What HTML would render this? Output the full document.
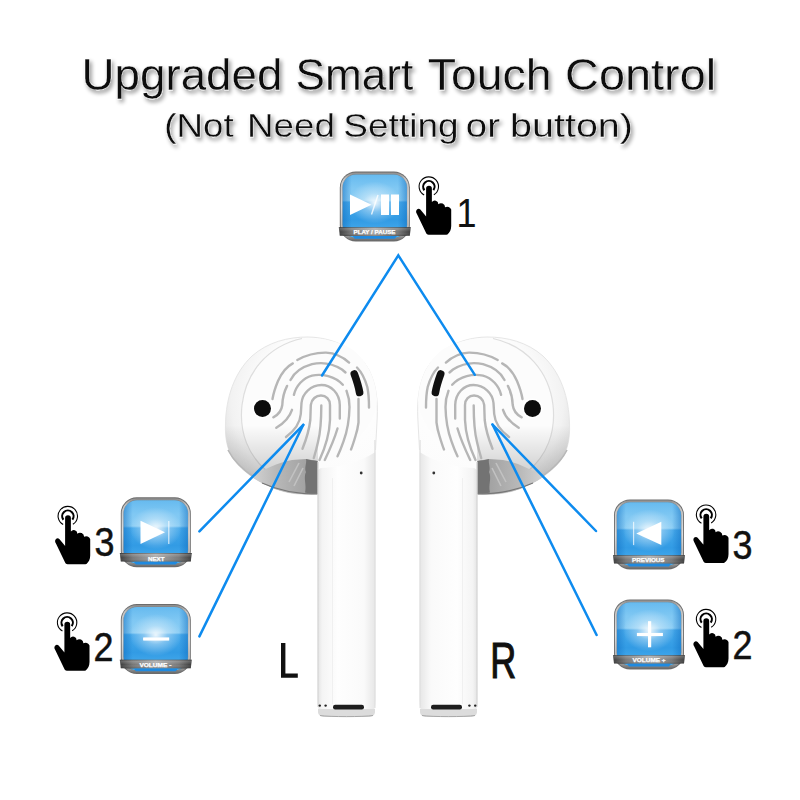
<!DOCTYPE html>
<html><head><meta charset="utf-8">
<style>
html,body{margin:0;padding:0;background:#fff;width:800px;height:800px;overflow:hidden}
svg{display:block}
text{font-family:"Liberation Sans",sans-serif}
</style></head>
<body>
<svg width="800" height="800" viewBox="0 0 800 800">
<defs>
  <filter id="tsh" x="-10%" y="-30%" width="120%" height="160%">
    <feGaussianBlur in="SourceAlpha" stdDeviation="2.1"/>
    <feOffset dx="2.2" dy="3.2" result="b"/>
    <feComponentTransfer><feFuncA type="linear" slope="0.42"/></feComponentTransfer>
    <feMerge><feMergeNode/><feMergeNode in="SourceGraphic"/></feMerge>
  </filter>
  <filter id="glow" x="-50%" y="-50%" width="200%" height="200%">
    <feGaussianBlur stdDeviation="0.6"/>
  </filter>
  <linearGradient id="ring" x1="0" y1="0" x2="0" y2="1">
    <stop offset="0" stop-color="#8a8a8a"/>
    <stop offset="0.1" stop-color="#c4c4c4"/>
    <stop offset="0.5" stop-color="#dcdcdc"/>
    <stop offset="0.9" stop-color="#b0b0b0"/>
    <stop offset="1" stop-color="#6a6a6a"/>
  </linearGradient>
  <linearGradient id="blue" x1="0" y1="0" x2="0" y2="1">
    <stop offset="0" stop-color="#66baef"/>
    <stop offset="0.22" stop-color="#80c8f3"/>
    <stop offset="0.41" stop-color="#88ccf4"/>
    <stop offset="0.44" stop-color="#45a8ea"/>
    <stop offset="0.72" stop-color="#329be4"/>
    <stop offset="1" stop-color="#4cb0f0"/>
  </linearGradient>
  <linearGradient id="bluex" x1="0" y1="0" x2="1" y2="0">
    <stop offset="0" stop-color="#0e6cc0" stop-opacity="0.5"/>
    <stop offset="0.14" stop-color="#0e6cc0" stop-opacity="0"/>
    <stop offset="0.86" stop-color="#0e6cc0" stop-opacity="0"/>
    <stop offset="1" stop-color="#0e6cc0" stop-opacity="0.5"/>
  </linearGradient>
  <radialGradient id="hl" cx="0.5" cy="0.5" r="0.5">
    <stop offset="0" stop-color="#ffffff" stop-opacity="0.9"/>
    <stop offset="0.45" stop-color="#ffffff" stop-opacity="0.35"/>
    <stop offset="1" stop-color="#ffffff" stop-opacity="0"/>
  </radialGradient>
  <linearGradient id="band" x1="0" y1="0" x2="1" y2="0">
    <stop offset="0" stop-color="#3a3a3a"/>
    <stop offset="0.18" stop-color="#777"/>
    <stop offset="0.5" stop-color="#a8a8a8"/>
    <stop offset="0.82" stop-color="#777"/>
    <stop offset="1" stop-color="#3a3a3a"/>
  </linearGradient>
  <linearGradient id="bandv" x1="0" y1="0" x2="0" y2="1">
    <stop offset="0" stop-color="#000" stop-opacity="0.35"/>
    <stop offset="0.15" stop-color="#fff" stop-opacity="0.2"/>
    <stop offset="0.55" stop-color="#fff" stop-opacity="0"/>
    <stop offset="1" stop-color="#000" stop-opacity="0.25"/>
  </linearGradient>
  <radialGradient id="headg" gradientUnits="userSpaceOnUse" cx="330" cy="400" r="112">
    <stop offset="0" stop-color="#ffffff"/>
    <stop offset="0.65" stop-color="#fcfcfc"/>
    <stop offset="0.88" stop-color="#f2f2f2"/>
    <stop offset="1" stop-color="#e4e4e4"/>
  </radialGradient>
  <linearGradient id="stemg" x1="0" y1="0" x2="1" y2="0">
    <stop offset="0" stop-color="#e2e2e2"/>
    <stop offset="0.08" stop-color="#f4f4f4"/>
    <stop offset="0.35" stop-color="#fefefe"/>
    <stop offset="0.8" stop-color="#fafafa"/>
    <stop offset="1" stop-color="#e6e6e6"/>
  </linearGradient>
  <clipPath id="headclip"><path d="M317.5 494 C305 495 290 494.5 276 489 C258 482 243 472 234 460 C227 450 225 438 225.5 424 C226 398 234 373 252 356 C268 342 288 337 308 337 C335 337.5 358 350 369 370 C376 384 378 400 377.2 418 L375.5 452 C360 462 340 468 317.5 468 Z"/></clipPath>
  <linearGradient id="botshade" gradientUnits="userSpaceOnUse" x1="0" y1="425" x2="0" y2="496">
    <stop offset="0" stop-color="#000" stop-opacity="0"/>
    <stop offset="0.5" stop-color="#000" stop-opacity="0.13"/>
    <stop offset="1" stop-color="#000" stop-opacity="0.24"/>
  </linearGradient>
  <linearGradient id="patchg" gradientUnits="userSpaceOnUse" x1="252" y1="0" x2="306" y2="0">
    <stop offset="0" stop-color="#d2d2d2"/>
    <stop offset="0.45" stop-color="#b8b8b8"/>
    <stop offset="1" stop-color="#a2a2a2"/>
  </linearGradient>
  <symbol id="btn" viewBox="0 0 70 70" overflow="visible">
    <rect x="0" y="0" width="70" height="70" rx="16" fill="#6c6c6c"/>
    <rect x="0.9" y="0.9" width="68.2" height="68.2" rx="15.2" fill="url(#ring)"/>
    <rect x="2.5" y="2.5" width="65" height="64" rx="13.8" fill="#5a5a5a" opacity="0.5"/>
    <rect x="2.9" y="2.9" width="64.2" height="63.2" rx="13.3" fill="url(#blue)"/>
    <rect x="2.9" y="2.9" width="64.2" height="63.2" rx="13.3" fill="url(#bluex)"/>
    <ellipse cx="35" cy="31" rx="26" ry="21" fill="url(#hl)"/>
    <path d="M-1 55.8 L71 55.8 L70 64.2 C60 64.6 10 64.6 0 64.2 Z" fill="url(#band)"/>
    <path d="M-1 55.8 L71 55.8 L70 64.2 C60 64.6 10 64.6 0 64.2 Z" fill="url(#bandv)"/>
    <path d="M13 64.4 L57 64.4 L55 67.2 L15 67.2 Z" fill="#1f8ae0"/>
  </symbol>
  <symbol id="hand" viewBox="0 0 800 800" overflow="visible">
    <path d="M184 212 A33 33 0 0 1 250 212 L250 365 A41 41 0 0 1 324 390 A47 47 0 0 1 401 426 A50 50 0 0 1 471 452 L471 640 C470 685 455 715 428 736 L415 740 L212 740 C198 740 190 732 184 720 L78 500 C67 482 66 462 80 450 C92 440 108 441 118 452 L180 525 L184 530 Z" fill="#000"/>
    <path d="M164.6 231.2 A65 65 0 1 1 267.5 230.4" fill="none" stroke="#000" stroke-width="24"/>
    <path d="M161.6 286.6 A111 111 0 1 1 272.9 283.7" fill="none" stroke="#000" stroke-width="12.5"/>
  </symbol>
  <g id="fp" fill="none" stroke="#b6b6b6" stroke-width="2.4" stroke-linecap="round" stroke-linejoin="round">
    <path d="M321.3 405.5 C321.3 420 320.5 432 318 442 C316.5 449 315 454 313.8 458"/>
    <path d="M302.5 448.8 C306 440 309 432 310.3 420 L310.8 405 C311.5 399 316 395.5 321 395.5 C326 395.5 330 399.5 330 405 L330 420 C329.5 432 326 446 319.5 460"/>
    <path d="M286 437 C294 431 300 424 300.8 414 L301.5 403 C302.5 393 311 385.2 321.5 385 C331 385 339.5 393 339.8 405 L339.8 418.5"/>
    <path d="M337.5 428.5 C335 437 331 447 324.8 460"/>
    <path d="M293.9 394.9 C296 386 303 378 312 375.6 C322 373.5 335 376 342.8 384.8"/>
    <path d="M346.5 390.8 C348.5 396 349.6 401 349.5 407 C349.3 418 347 432 343.5 441.3 C341.5 447 339.5 452 337.5 456.3"/>
    <path d="M292 409.8 C290 416 284 423 276.3 427.8"/>
    <path d="M290.5 380 C294 373 302 367 312 364.2 C322 361.8 333 363.8 342 369.5 L345.5 372.5"/>
    <path d="M287.1 385.9 C284.5 391 282.5 397 282.3 405 C281.5 411 278 415 273.3 417.3"/>
    <path d="M358.5 399 L358.5 422.5 C357.8 428 356.8 432 355.5 436 C354 441 352.5 446 351 449.5"/>
    <path d="M297.3 360 C306 355 316 352.5 326 352.6 C335 353 343 357 349.1 362.6"/>
    <path d="M357 367.5 C361 371.5 365 379 367.3 387 C368.6 393 369 400 369 407.5"/>
    <path d="M292.8 363.4 C287 366.5 282 372 278 381 C275.5 387 273.3 394 272.5 399"/>
  </g>
  <g id="bud">
    <!-- head + stem outline -->
    <path d="M317.5 440 L375.5 430 L375.5 700 C375.5 712 371 717 365 717 L328 717 C322 717 317.5 712 317.5 700 Z" fill="url(#stemg)"/>
    <path d="M317.5 494 C305 495 290 494.5 276 489 C258 482 243 472 234 460 C227 450 225 438 225.5 424 C226 398 234 373 252 356 C268 342 288 337 308 337 C335 337.5 358 350 369 370 C376 384 378 400 377.2 418 L375.5 452 C360 462 340 468 317.5 468 Z" fill="url(#headg)"/>
    <path d="M317.5 494 C305 495 290 494.5 276 489 C258 482 243 472 234 460 C227 450 225 438 225.5 424 C226 398 234 373 252 356 C268 342 288 337 308 337 C335 337.5 358 350 369 370 C376 384 378 400 377.2 418 L375.5 450" fill="none" stroke="#e6e6e6" stroke-width="1"/>
    
    <!-- face disc -->
    <path d="M302 338.5 C268 346 246 372 242 405 C239 432 248 456 268 472 C285 482 300 478 318 470 L340 455 C360 440 376 420 377 400 C376 380 368 360 350 348 C335 340 318 337 302 338.5 Z" fill="#fcfcfc"/>
    <path d="M302 338.5 C268 346 246 372 242 405 C239 432 248 456 268 472" fill="none" stroke="#dedede" stroke-width="1.2"/>
    <rect x="220" y="425" width="98" height="75" fill="url(#botshade)" clip-path="url(#headclip)"/>
    <!-- bottom edge darker line -->
    <path d="M228 450 C236 466 252 478 276 488.5 C290 493 305 494 317.5 493.5" fill="none" stroke="#b8b8b8" stroke-width="1.6"/>
    <!-- shadow under head -->
    <path d="M252 477 C263 470 276 463 292 460 L306 459 L317.5 461 L317.5 494 C305 494.8 290 492.5 276 488.5 C266 485.5 258 481.5 252 477 Z" fill="url(#patchg)"/>
    <path d="M306 459 C310 460 314 460.5 317.5 461 L317.5 493.8 C312 494 308 493.4 305 492.4 C307 485 303 478 306 472 C304 468 307 463 306 459 Z" fill="#737373"/>
    <path d="M289 482 L299 463 M294 486 L303 468" fill="none" stroke="#c2c2c2" stroke-width="1.6"/>
    <path d="M262 483 C275 489 295 494 317.5 494" fill="none" stroke="#767676" stroke-width="1.2"/>
    <!-- stem shading -->
    <rect x="317.5" y="462" width="1.2" height="245" fill="#d8d8d8"/>
    <rect x="374.3" y="440" width="1.2" height="268" fill="#e0e0e0"/>
    <rect x="332" y="478" width="1" height="226" fill="#f0f0f0"/>
    <rect x="370.5" y="478" width="1" height="226" fill="#eeeeee"/>
    <!-- bottom cap -->
    <path d="M318 709 L375 709 L375 712 C375 715 372 717 368 717 L325 717 C321 717 318 715 318 712 Z" fill="#dcdcdc"/>
    <path d="M320 715.5 C330 717 363 717 373 715.5" fill="none" stroke="#a8a8a8" stroke-width="1"/>
    <rect x="333" y="704.8" width="31" height="4.6" rx="2.2" fill="#1e1e1e"/>
    <circle cx="319.8" cy="705.6" r="1.2" fill="#222"/>
    <circle cx="325.6" cy="705.6" r="1.2" fill="#222"/>
    <use href="#fp"/>
    <circle cx="262.5" cy="408.5" r="10.3" fill="#fff" opacity="0.85"/>
    <circle cx="262.5" cy="408.5" r="8.5" fill="#0c0c0c"/>
    <path d="M354.3 374 C356.5 380 358.5 386 359.6 392.5" fill="none" stroke="#111" stroke-width="7.6" stroke-linecap="round"/>
    <circle cx="361.2" cy="473" r="1.4" fill="#333"/>
  </g>
</defs>

<!-- title -->
<g filter="url(#tsh)" fill="#0e0e0e" stroke="#fff" stroke-width="0.3">
  <g font-size="44">
  <text x="81.47" y="89.9" textLength="200.98" lengthAdjust="spacingAndGlyphs">Upgraded</text>
  <text x="295.49" y="89.9" textLength="117.83" lengthAdjust="spacingAndGlyphs">Smart</text>
  <text x="427.75" y="89.9" textLength="123.9" lengthAdjust="spacingAndGlyphs">Touch</text>
  <text x="565.12" y="89.9" textLength="151.01" lengthAdjust="spacingAndGlyphs">Control</text>
  </g>
  <g font-size="34.1">
  <text x="164.32" y="137.3" textLength="69.45" lengthAdjust="spacingAndGlyphs">(Not</text>
  <text x="246.98" y="137.3" textLength="87.99" lengthAdjust="spacingAndGlyphs">Need</text>
  <text x="343.32" y="137.3" textLength="115.27" lengthAdjust="spacingAndGlyphs">Setting</text>
  <text x="465.89" y="137.3" textLength="34.15" lengthAdjust="spacingAndGlyphs">or</text>
  <text x="509.95" y="137.3" textLength="123.1" lengthAdjust="spacingAndGlyphs">button)</text>
  </g>
</g>

<!-- earbuds -->
<use href="#bud"/>
<use href="#bud" transform="translate(795,0) scale(-1,1)"/>

<!-- lines -->
<g stroke="#0d8bef" stroke-width="2.5" fill="none" stroke-linecap="round">
  <path d="M322 375.5 L398.3 255.4 L474.8 374.8"/>
  <path d="M303.3 424.8 L199.4 531.4"/>
  <path d="M303.3 424.8 L199.4 636.4"/>
  <path d="M492.5 424.5 L596 531"/>
  <path d="M492.5 424.5 L596.6 635"/>
</g>

<!-- buttons -->
<use href="#btn" x="339.8" y="171.5" width="70" height="70"/>
<use href="#btn" x="120.8" y="497.3" width="70" height="70"/>
<use href="#btn" x="120.8" y="604" width="70" height="70"/>
<use href="#btn" x="614" y="499.4" width="70" height="70"/>
<use href="#btn" x="614" y="599.4" width="70" height="70"/>

<!-- button icons -->
<g fill="#fff">
  <!-- play/pause -->
  <path d="M350 194.5 L371.5 204.8 L350 215 Z"/>
  <path d="M371.5 214.5 L378 195" stroke="#fff" stroke-opacity="0.8" stroke-width="1.4"/>
  <rect x="381" y="194.5" width="8" height="20.5"/>
  <rect x="391" y="194.5" width="8" height="20.5"/>
  <!-- next -->
  <path d="M140.5 520.7 L165 532.3 L140.5 544 Z"/>
  <rect x="168.2" y="521" width="1.2" height="23" opacity="0.75"/>
  <!-- minus -->
  <rect x="143.2" y="637.5" width="26" height="3" filter="url(#glow)"/>
  <rect x="143.5" y="637.8" width="25.4" height="2.4"/>
  <!-- prev -->
  <path d="M661.3 521.8 L636.3 533.4 L661.3 545.1 Z"/>
  <rect x="633" y="521.8" width="1.2" height="23.3" opacity="0.7"/>
  <!-- plus -->
  <rect x="636.9" y="632.9" width="26" height="3.2"/>
  <rect x="648" y="621.2" width="3.2" height="26.1"/>
</g>
<g fill="#fff" font-weight="bold" font-size="6.2" text-anchor="middle" stroke="#fff" stroke-width="0.25">
  <text x="374.5" y="234.3" textLength="42" lengthAdjust="spacingAndGlyphs">PLAY / PAUSE</text>
  <text x="156.2" y="560.5" textLength="16.5" lengthAdjust="spacingAndGlyphs">NEXT</text>
  <text x="155.4" y="667" textLength="32" lengthAdjust="spacingAndGlyphs">VOLUME -</text>
  <text x="648.3" y="562" textLength="32.5" lengthAdjust="spacingAndGlyphs">PREVIOUS</text>
  <text x="649.1" y="662" textLength="33" lengthAdjust="spacingAndGlyphs">VOLUME +</text>
</g>

<!-- hands -->
<use href="#hand" x="410" y="170" width="70" height="70"/>
<use href="#hand" x="49" y="499.5" width="70" height="70"/>
<use href="#hand" x="48.3" y="606" width="70" height="70"/>
<use href="#hand" x="687.3" y="498.2" width="70" height="70"/>
<use href="#hand" x="687.3" y="602.5" width="70" height="70"/>

<!-- numbers -->
<g fill="#111" font-size="40" stroke="#111" stroke-width="0.5" lengthAdjust="spacingAndGlyphs">
  <text x="456.5" y="227" textLength="20" lengthAdjust="spacingAndGlyphs" stroke-width="0.1" font-size="40.5">1</text>
  <text x="94.5" y="555.5" textLength="20" lengthAdjust="spacingAndGlyphs">3</text>
  <text x="93.5" y="661" textLength="20" lengthAdjust="spacingAndGlyphs">2</text>
  <text x="732.5" y="559" textLength="20" lengthAdjust="spacingAndGlyphs">3</text>
  <text x="732.5" y="658.5" textLength="20" lengthAdjust="spacingAndGlyphs">2</text>
</g>

<!-- L R -->
<g fill="#111">
  <path d="M281 643.1 H285.4 V673.5 H297.8 V677.8 H281 Z"/>
  <text transform="translate(490.3 677.8) scale(0.72 1)" x="0" y="0" font-size="50" stroke="#111" stroke-width="1.2">R</text>
</g>
</svg>
</body></html>
